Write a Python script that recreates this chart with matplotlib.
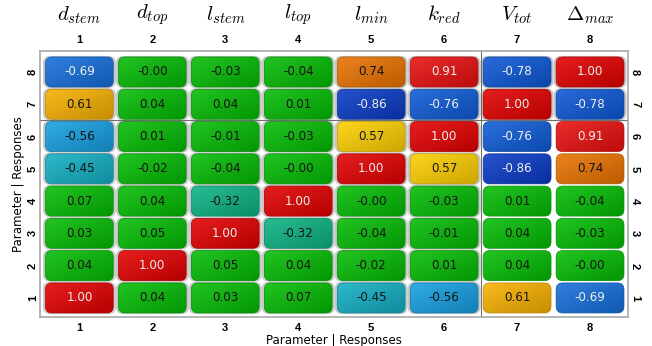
import matplotlib
matplotlib.use('Agg')
import matplotlib.pyplot as plt
import numpy as np
from matplotlib.colors import LinearSegmentedColormap, to_rgb
from matplotlib.patches import FancyBboxPatch

# column / row names (1..8)
names = [r'$d_{stem}$', r'$d_{top}$', r'$l_{stem}$', r'$l_{top}$',
         r'$l_{min}$', r'$k_{red}$', r'$V_{tot}$', r'$\Delta_{max}$']
tick_labels = ['1', '2', '3', '4', '5', '6', '7', '8']

# correlation values, row 1 (bottom) .. row 8 (top)
row1 = [1.00, 0.04, 0.03, 0.07, -0.45, -0.56, 0.61, -0.69]
row2 = [0.04, 1.00, 0.05, 0.04, -0.02, 0.01, 0.04, -0.0]
row3 = [0.03, 0.05, 1.00, -0.32, -0.04, -0.01, 0.04, -0.03]
row4 = [0.07, 0.04, -0.32, 1.00, -0.0, -0.03, 0.01, -0.04]
row5 = [-0.45, -0.02, -0.04, -0.0, 1.00, 0.57, -0.86, 0.74]
row6 = [-0.56, 0.01, -0.01, -0.03, 0.57, 1.00, -0.76, 0.91]
row7 = [0.61, 0.04, 0.04, 0.01, -0.86, -0.76, 1.00, -0.78]
row8 = [-0.69, -0.0, -0.03, -0.04, 0.74, 0.91, -0.78, 1.00]
rows = [row1, row2, row3, row4, row5, row6, row7, row8]

cmap = LinearSegmentedColormap.from_list('corr', [
    (0.00, '#0028a8'),
    (0.07, '#0a3cc8'),
    (0.11, '#0d58d6'),
    (0.155, '#1670dc'),
    (0.22, '#16a0e2'),
    (0.275, '#12b0c4'),
    (0.34, '#0cb486'),
    (0.42, '#04bd04'),
    (0.62, '#04bd04'),
    (0.785, '#ffd000'),
    (0.805, '#f8b400'),
    (0.87, '#ea7400'),
    (0.955, '#ea1010'),
    (1.00, '#e40000'),
])

fig = plt.figure(figsize=(6.52, 3.46), dpi=100)
ax = fig.add_axes([40 / 652, 29 / 346, 588 / 652, 266 / 346])
ax.set_xlim(0.46, 8.52)
ax.set_ylim(0.41, 8.65)

px_x = 73.0
px_y = 32.3
aspect = px_x / px_y

# light grey halo behind cells (not in the responses-vs-parameters block)
for j in range(8):
    for i in range(8):
        if j >= 6 and i < 6:
            continue
        halo = FancyBboxPatch((j + 1 - 0.5, i + 1 - 0.5), 1.0, 1.0,
                              boxstyle='round,pad=0,rounding_size=0.1',
                              mutation_aspect=aspect, fc='#c9c9c9', ec='none',
                              zorder=0)
        ax.add_patch(halo)

# gradient used for the glossy cell look
gy, gx = np.mgrid[0:1:20j, 0:1:40j]
t = (gx + gy) / 2.0

w, h = 0.93, 0.93
for i, vals in enumerate(rows):
    y = i + 1
    for j, v in enumerate(vals):
        x = j + 1
        base = np.array(to_rgb(cmap((v + 1) / 2)))
        light = base + (1 - base) * 0.12
        dark = base * 0.80
        img = light[None, None, :] * (1 - t[..., None]) + dark[None, None, :] * t[..., None]
        box = FancyBboxPatch((x - w / 2, y - h / 2), w, h,
                             boxstyle='round,pad=0,rounding_size=0.09',
                             mutation_aspect=aspect, fc='none',
                             ec=tuple(base * 0.75), lw=0.5, zorder=3)
        ax.add_patch(box)
        im = ax.imshow(img, extent=(x - w / 2, x + w / 2, y - h / 2, y + h / 2),
                       origin='upper', aspect='auto', zorder=2, interpolation='bilinear')
        im.set_clip_path(box)
        white = v >= 0.85 or v <= -0.65
        ax.text(x, y, f'{v:.2f}', ha='center', va='center', fontsize=8.6,
                color='#eeeeee' if white else '#151515', zorder=4)

# separators between parameters and responses
ax.axvline(6.5, color='#707070', lw=0.8, zorder=1)
ax.axhline(6.5, color='#707070', lw=0.8, zorder=1)

for s in ax.spines.values():
    s.set_color('#a8a8a8')
    s.set_linewidth(1.2)

ticks = list(range(1, 9))
ax.set_xticks(ticks)
ax.set_yticks(ticks)
ax.set_xticklabels(tick_labels)
ax.set_yticklabels(tick_labels, rotation=90, va='center')
ax.tick_params(axis='both', length=0, labelsize=8, pad=4,
               top=False, right=False, labeltop=True, labelright=True)
ax.tick_params(axis='y', pad=1.5)
for lab in ax.get_xticklabels() + ax.get_yticklabels():
    lab.set_fontweight('bold')
    lab.set_family('Liberation Sans')
# right side labels rotated the other way
for tk in ax.yaxis.get_major_ticks():
    tk.label2.set_rotation(-90)
    tk.label2.set_va('center')

ax.set_xticks([2, 4, 6, 8], minor=True)
ax.set_yticks([2, 4, 6, 8], minor=True)
ax.tick_params(which='minor', length=3, direction='out', color='#707070',
               top=True, right=True, bottom=True, left=True)

ax.set_xlabel('Parameter | Responses', fontsize=8.5, labelpad=1)
ax.set_ylabel('Parameter | Responses', fontsize=8.5, labelpad=2)

for j, name in enumerate(names):
    ax.text(j + 1, 1.135, name, transform=ax.get_xaxis_transform(),
            ha='center', va='center', fontsize=15, math_fontfamily='cm')

fig.savefig('out.png', dpi=100)
